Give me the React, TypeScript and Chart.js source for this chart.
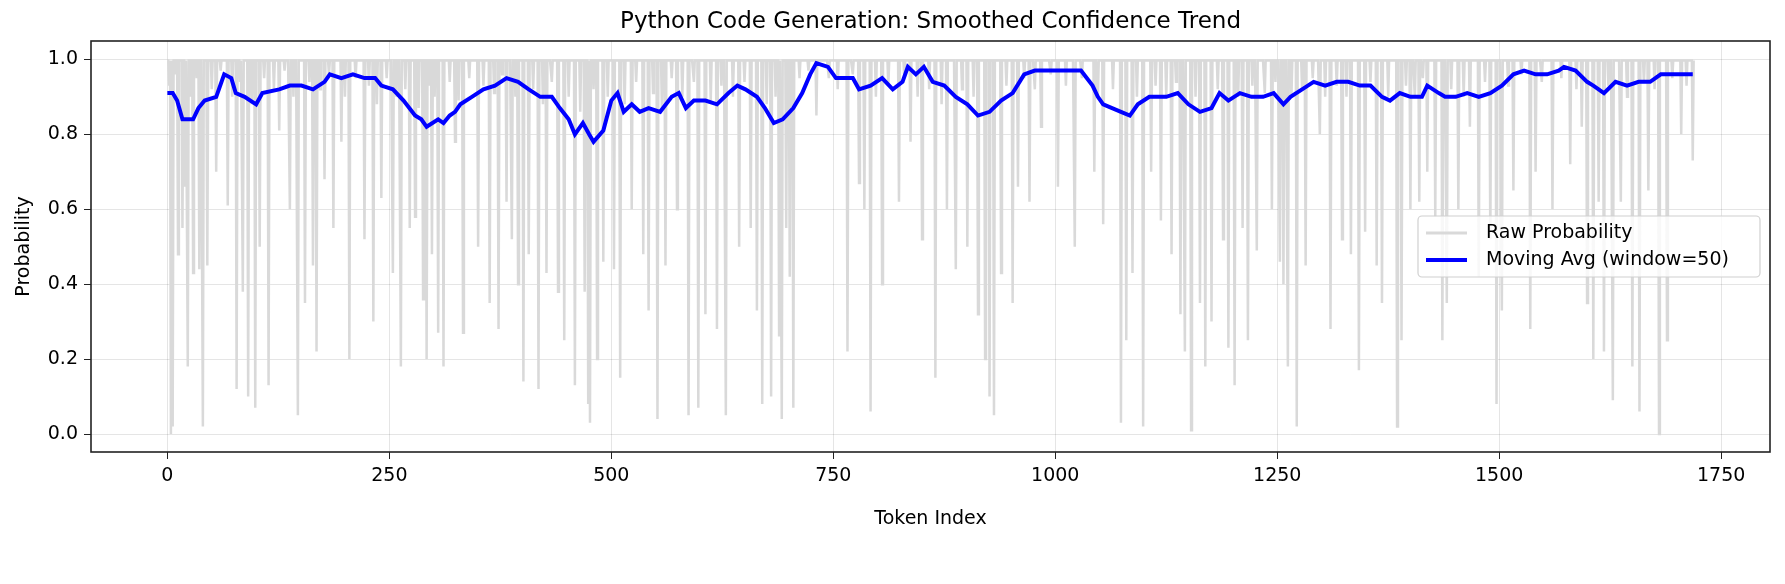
import React, { useEffect, useRef } from "react";
import { Chart, registerables } from "chart.js";
Chart.register(...registerables);

const TOKEN_COUNT = 1720;
const BASE_PROB = 0.997;
// major dips of raw probability: [token index, probability]
const majorDips: [number, number][] = [
  [4, 0.0], [6, 0.02], [12, 0.48], [17, 0.55], [20, 0.66], [23, 0.18], [29, 0.43], [36, 0.44], [40, 0.02], [45, 0.45],
  [55, 0.7], [68, 0.61], [78, 0.12], [85, 0.38], [91, 0.1], [99, 0.07], [104, 0.5], [114, 0.13], [126, 0.81], [138, 0.6],
  [147, 0.05], [155, 0.35], [164, 0.45], [168, 0.22], [177, 0.68], [187, 0.55], [196, 0.78], [205, 0.2], [222, 0.52], [232, 0.3],
  [241, 0.63], [254, 0.43], [263, 0.18], [273, 0.55], [279, 0.58], [288, 0.36], [292, 0.2], [298, 0.48], [305, 0.27], [311, 0.18],
  [324, 0.78], [333, 0.27], [350, 0.5], [363, 0.35], [373, 0.28], [382, 0.62], [388, 0.52], [395, 0.4], [401, 0.14], [407, 0.48],
  [418, 0.12], [427, 0.43], [440, 0.38], [447, 0.25], [459, 0.13], [470, 0.38], [474, 0.08], [476, 0.03], [484, 0.2], [491, 0.46],
  [503, 0.44], [510, 0.15], [523, 0.6], [536, 0.48], [542, 0.33], [552, 0.04], [561, 0.45], [574, 0.6], [587, 0.05], [598, 0.07],
  [606, 0.32], [619, 0.28], [629, 0.05], [644, 0.5], [657, 0.55], [664, 0.33], [670, 0.08], [680, 0.1], [689, 0.26], [692, 0.04],
  [697, 0.55], [701, 0.42], [705, 0.07], [731, 0.85], [766, 0.22], [779, 0.67], [785, 0.6], [792, 0.06], [805, 0.4], [824, 0.62],
  [837, 0.78], [850, 0.52], [865, 0.15], [878, 0.6], [888, 0.44], [901, 0.5], [913, 0.32], [921, 0.2], [926, 0.1], [931, 0.05],
  [939, 0.43], [952, 0.35], [958, 0.66], [971, 0.62], [984, 0.82], [1003, 0.66], [1022, 0.5], [1044, 0.7], [1054, 0.56], [1074, 0.03],
  [1080, 0.25], [1087, 0.43], [1099, 0.02], [1108, 0.7], [1119, 0.57], [1131, 0.48], [1141, 0.32], [1146, 0.22], [1153, 0.01], [1163, 0.35],
  [1169, 0.18], [1176, 0.3], [1189, 0.52], [1195, 0.23], [1202, 0.13], [1211, 0.55], [1217, 0.25], [1227, 0.49], [1244, 0.6], [1253, 0.46],
  [1257, 0.4], [1262, 0.18], [1272, 0.02], [1282, 0.45], [1298, 0.8], [1310, 0.28], [1323, 0.52], [1333, 0.48], [1342, 0.17], [1349, 0.54],
  [1362, 0.45], [1368, 0.35], [1385, 0.02], [1390, 0.25], [1400, 0.6], [1410, 0.62], [1419, 0.7], [1428, 0.58], [1436, 0.25], [1441, 0.35],
  [1454, 0.6], [1467, 0.82], [1477, 0.42], [1490, 0.52], [1497, 0.08], [1503, 0.33], [1516, 0.65], [1535, 0.28], [1541, 0.7], [1560, 0.6],
  [1580, 0.72], [1593, 0.82], [1599, 0.35], [1606, 0.2], [1612, 0.62], [1618, 0.22], [1628, 0.09], [1637, 0.62], [1650, 0.18], [1658, 0.06],
  [1668, 0.65], [1680, 0.0], [1689, 0.25], [1705, 0.8], [1718, 0.73],
];
// shallow dips near the top: [token index, probability]
const minorDips: [number, number][] = [
  [2, 0.93], [9, 0.96], [26, 0.9], [33, 0.95], [50, 0.92], [60, 0.97], [73, 0.9], [82, 0.94], [95, 0.88], [109, 0.95],
  [120, 0.92], [132, 0.97], [142, 0.9], [160, 0.94], [172, 0.92], [182, 0.96], [200, 0.9], [212, 0.95], [227, 0.93], [236, 0.88],
  [247, 0.95], [258, 0.9], [268, 0.92], [283, 0.87], [295, 0.93], [301, 0.9], [318, 0.94], [328, 0.89], [340, 0.95], [356, 0.93],
  [368, 0.91], [377, 0.96], [392, 0.9], [412, 0.92], [423, 0.88], [433, 0.94], [452, 0.9], [465, 0.86], [480, 0.92], [496, 0.9],
  [515, 0.88], [528, 0.94], [547, 0.91], [557, 0.87], [568, 0.95], [580, 0.9], [593, 0.94], [612, 0.89], [624, 0.93], [637, 0.9],
  [650, 0.94], [675, 0.88], [685, 0.9], [712, 0.95], [722, 0.97], [745, 0.95], [755, 0.92], [772, 0.96], [798, 0.9], [812, 0.93],
  [830, 0.95], [845, 0.9], [858, 0.92], [872, 0.88], [895, 0.92], [908, 0.9], [945, 0.93], [965, 0.95], [977, 0.92], [995, 0.96],
  [1012, 0.93], [1030, 0.95], [1048, 0.9], [1065, 0.92], [1092, 0.9], [1113, 0.93], [1125, 0.9], [1136, 0.94], [1158, 0.9], [1183, 0.92],
  [1206, 0.9], [1222, 0.93], [1236, 0.91], [1248, 0.94], [1266, 0.9], [1278, 0.92], [1290, 0.95], [1304, 0.9], [1317, 0.93], [1328, 0.9],
  [1355, 0.94], [1375, 0.9], [1395, 0.93], [1405, 0.9], [1414, 0.95], [1446, 0.92], [1460, 0.9], [1484, 0.94], [1510, 0.93], [1525, 0.96],
  [1548, 0.94], [1570, 0.95], [1587, 0.92], [1623, 0.93], [1644, 0.9], [1663, 0.94], [1675, 0.92], [1695, 0.95], [1711, 0.93],
];
// moving average (window=50): [token index, value]
const movingAvg: [number, number][] = [
  [0, 0.91], [6, 0.91], [11, 0.89], [17, 0.84], [29, 0.84], [35, 0.87], [42, 0.89], [55, 0.9], [64, 0.96], [72, 0.95],
  [77, 0.91], [87, 0.9], [100, 0.88], [107, 0.91], [126, 0.92], [138, 0.93], [151, 0.93], [164, 0.92], [177, 0.94], [183, 0.96],
  [196, 0.95], [209, 0.96], [222, 0.95], [234, 0.95], [241, 0.93], [254, 0.92], [266, 0.89], [279, 0.85], [286, 0.84], [292, 0.82],
  [305, 0.84], [311, 0.83], [318, 0.85], [324, 0.86], [330, 0.88], [343, 0.9], [356, 0.92], [369, 0.93], [382, 0.95], [395, 0.94],
  [407, 0.92], [420, 0.9], [433, 0.9], [442, 0.87], [452, 0.84], [459, 0.8], [468, 0.83], [475, 0.8], [480, 0.78], [491, 0.81],
  [500, 0.89], [507, 0.91], [514, 0.86], [523, 0.88], [532, 0.86], [542, 0.87], [555, 0.86], [568, 0.9], [576, 0.91], [584, 0.87],
  [593, 0.89], [606, 0.89], [619, 0.88], [632, 0.91], [642, 0.93], [651, 0.92], [664, 0.9], [673, 0.87], [683, 0.83], [693, 0.84],
  [705, 0.87], [715, 0.91], [724, 0.96], [731, 0.99], [744, 0.98], [753, 0.95], [772, 0.95], [779, 0.92], [792, 0.93], [805, 0.95],
  [817, 0.92], [828, 0.94], [834, 0.98], [843, 0.96], [852, 0.98], [862, 0.94], [875, 0.93], [888, 0.9], [901, 0.88], [913, 0.85],
  [926, 0.86], [939, 0.89], [952, 0.91], [965, 0.96], [977, 0.97], [997, 0.97], [1009, 0.97], [1029, 0.97], [1042, 0.93], [1048, 0.9],
  [1054, 0.88], [1074, 0.86], [1084, 0.85], [1093, 0.88], [1106, 0.9], [1125, 0.9], [1138, 0.91], [1150, 0.88], [1163, 0.86], [1176, 0.87],
  [1185, 0.91], [1195, 0.89], [1208, 0.91], [1221, 0.9], [1234, 0.9], [1246, 0.91], [1257, 0.88], [1265, 0.9], [1278, 0.92], [1291, 0.94],
  [1304, 0.93], [1317, 0.94], [1330, 0.94], [1343, 0.93], [1355, 0.93], [1368, 0.9], [1377, 0.89], [1388, 0.91], [1400, 0.9], [1413, 0.9],
  [1419, 0.93], [1432, 0.91], [1439, 0.9], [1451, 0.9], [1464, 0.91], [1477, 0.9], [1490, 0.91], [1503, 0.93], [1516, 0.96], [1528, 0.97],
  [1541, 0.96], [1554, 0.96], [1567, 0.97], [1573, 0.98], [1586, 0.97], [1599, 0.94], [1606, 0.93], [1612, 0.92], [1618, 0.91], [1631, 0.94],
  [1644, 0.93], [1657, 0.94], [1670, 0.94], [1682, 0.96], [1718, 0.96],
];

const X_TICKS = [0, 250, 500, 750, 1000, 1250, 1500, 1750];
const Y_TICKS = [0, 0.2, 0.4, 0.6, 0.8, 1.0];
const TITLE = "Python Code Generation: Smoothed Confidence Trend";
const X_LABEL = "Token Index";
const Y_LABEL = "Probability";
const LEGEND_LABELS = ["Raw Probability", "Moving Avg (window=50)"];
const FONT = "'DejaVu Sans', sans-serif";

function buildRaw() {
  const vals: number[] = new Array(TOKEN_COUNT).fill(BASE_PROB);
  for (const [i, v] of minorDips) vals[i] = v;
  for (const [i, v] of majorDips) vals[i] = v;
  return vals.map((y, x) => ({ x, y }));
}

const decor = {
  id: "decor",
  afterDraw(chart: any) {
    const { ctx, chartArea: a } = chart;
    ctx.save();
    ctx.strokeStyle = "#222";
    ctx.lineWidth = 1.6;
    ctx.strokeRect(a.left, a.top, a.right - a.left, a.bottom - a.top);
    ctx.fillStyle = "#000";
    ctx.textAlign = "center";
    ctx.textBaseline = "middle";
    ctx.font = `23px ${FONT}`;
    ctx.fillText(TITLE, (a.left + a.right) / 2, 22);
    ctx.font = `19px ${FONT}`;
    ctx.fillText(X_LABEL, (a.left + a.right) / 2, 519);
    ctx.save();
    ctx.translate(24, (a.top + a.bottom) / 2);
    ctx.rotate(-Math.PI / 2);
    ctx.fillText(Y_LABEL, 0, 0);
    ctx.restore();
    // legend
    const lx = 1418, ly = 216, lw = 342, lh = 61;
    ctx.fillStyle = "rgba(255,255,255,0.8)";
    ctx.strokeStyle = "#d0d0d0";
    ctx.lineWidth = 1.2;
    ctx.beginPath();
    ctx.roundRect(lx, ly, lw, lh, 4);
    ctx.fill();
    ctx.stroke();
    const colors = ["#d9d9d9", "#0000ff"];
    const widths = [3, 4];
    ctx.textAlign = "left";
    ctx.font = `19px ${FONT}`;
    LEGEND_LABELS.forEach((t, i) => {
      const y = ly + 17 + i * 27;
      ctx.strokeStyle = colors[i];
      ctx.lineWidth = widths[i];
      ctx.beginPath();
      ctx.moveTo(lx + 8, y);
      ctx.lineTo(lx + 49, y);
      ctx.stroke();
      ctx.fillStyle = "#000";
      ctx.fillText(t, lx + 68, y);
    });
    ctx.restore();
  },
};

export default function App() {
  const ref = useRef<HTMLCanvasElement>(null);
  useEffect(() => {
    const chart = new Chart(ref.current!, {
      type: "line",
      data: {
        datasets: [
          {
            label: LEGEND_LABELS[0],
            data: buildRaw(),
            borderColor: "#d9d9d9",
            borderWidth: 2.5,
            pointRadius: 0,
            tension: 0,
            order: 2,
          },
          {
            label: LEGEND_LABELS[1],
            data: movingAvg.map(([x, y]) => ({ x, y })),
            borderColor: "#0000ff",
            borderWidth: 4,
            pointRadius: 0,
            tension: 0,
            order: 1,
          },
        ],
      },
      options: {
        animation: false,
        responsive: false,
        layout: { padding: { top: 41, right: 15, left: 0, bottom: 0 } },
        plugins: { legend: { display: false }, tooltip: { enabled: false }, title: { display: false } },
        scales: {
          x: {
            type: "linear",
            min: -86,
            max: 1805,
            afterFit: (s: any) => { s.height = 132; },
            afterBuildTicks: (s: any) => { s.ticks = X_TICKS.map((v) => ({ value: v })); },
            grid: { color: "rgba(0,0,0,0.1)", drawTicks: true, tickLength: 7, tickColor: "#222" },
            border: { display: false },
            ticks: { color: "#000", font: { family: FONT, size: 19 }, maxRotation: 0, padding: 6, callback: (v: any) => String(v) },
          },
          y: {
            min: -0.048,
            max: 1.049,
            afterFit: (s: any) => { s.width = 91; },
            afterBuildTicks: (s: any) => { s.ticks = Y_TICKS.map((v) => ({ value: v })); },
            grid: { color: "rgba(0,0,0,0.1)", drawTicks: true, tickLength: 7, tickColor: "#222" },
            border: { display: false },
            ticks: { color: "#000", font: { family: FONT, size: 19 }, padding: 6, callback: (v: any) => Number(v).toFixed(1) },
          },
        },
      },
      plugins: [decor],
    });
    return () => chart.destroy();
  }, []);
  return (
    <div style={{ position: "fixed", left: 0, top: 0, width: 1785, height: 584, background: "#fff" }}>
      <canvas ref={ref} width={1785} height={584} style={{ width: 1785, height: 584 }} />
    </div>
  );
}
